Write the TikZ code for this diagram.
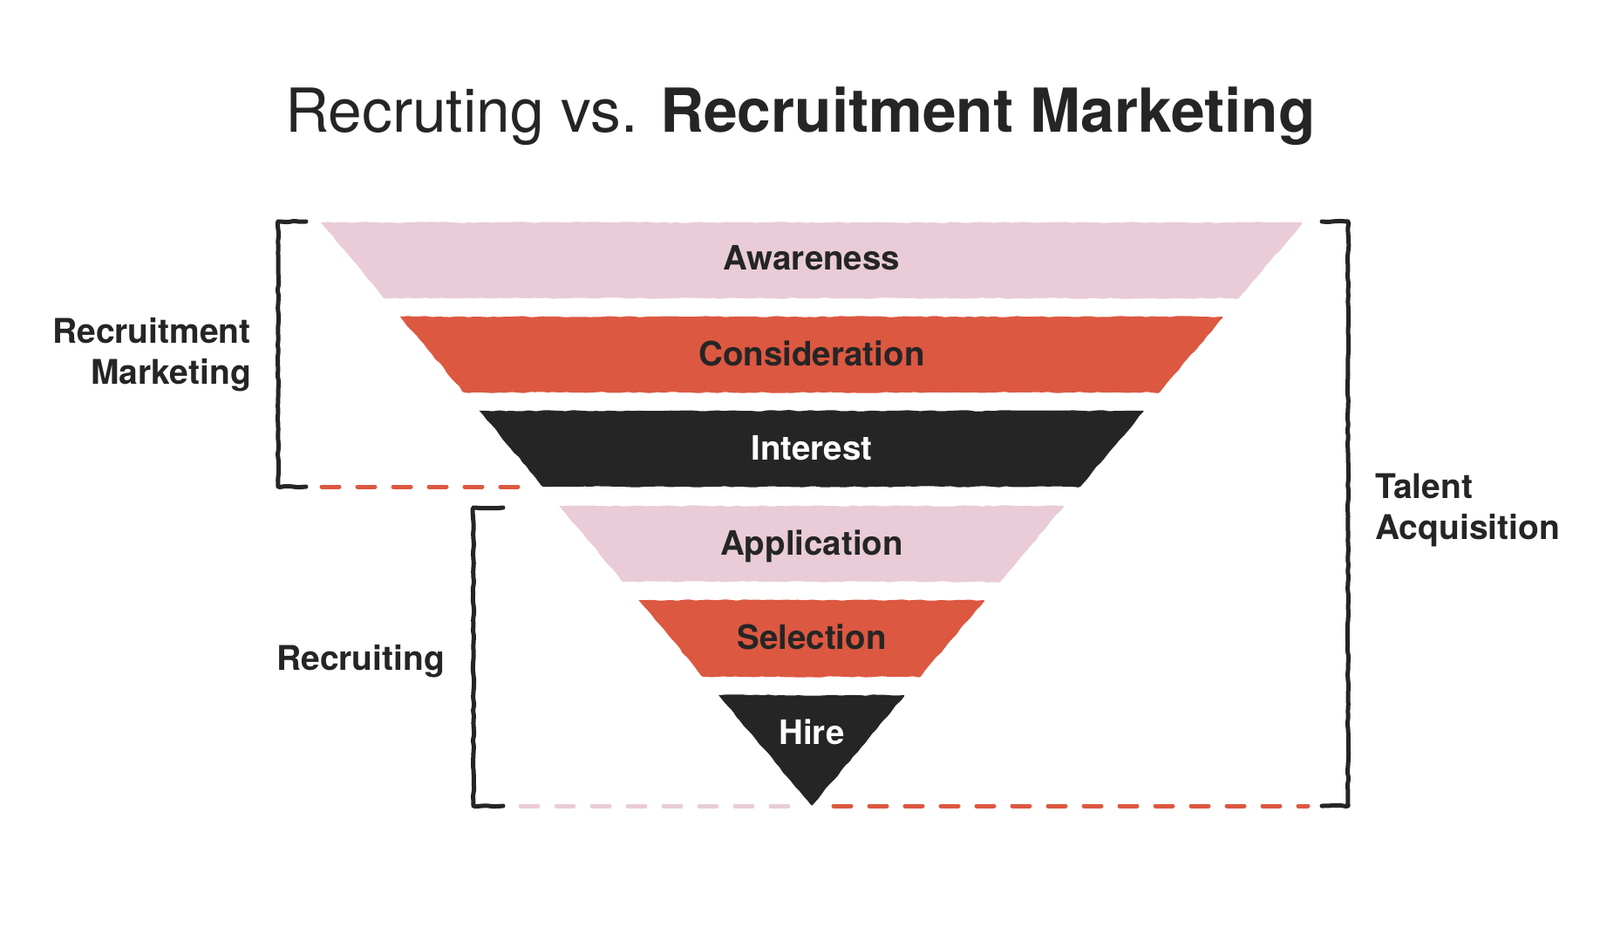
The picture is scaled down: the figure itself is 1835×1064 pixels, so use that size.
\documentclass[tikz,border=0pt]{standalone}
\usepackage{fontspec}
\setmainfont{TeX Gyre Heros}
\usetikzlibrary{decorations.pathmorphing}
\definecolor{fpink}{HTML}{E9CCD8}
\definecolor{fred}{HTML}{DC5841}
\definecolor{fdark}{HTML}{252525}
\tikzset{
  wob/.style={decorate, decoration={random steps, segment length=7pt, amplitude=0.8pt}, rounded corners=1.5pt},
  brk/.style={draw=fdark, line width=5pt, line cap=round, line join=round, wob},
  dashline/.style={line width=5pt, line cap=round, dash pattern=on 20pt off 21pt},
  flab/.style={font=\fontsize{38.5}{46}\selectfont\bfseries, anchor=base, inner sep=0pt},
  slab/.style={font=\fontsize{39}{46}\selectfont\bfseries, text=fdark, inner sep=0pt},
}
\begin{document}
\begin{tikzpicture}[x=1pt,y=-1pt]
\useasboundingbox[fill=white] (0,0) rectangle (1835,1064);
% title
\node[anchor=base, inner sep=0pt, text=fdark] (title) at (918,152)
  {\fontsize{69.5}{80}\selectfont Recruting vs. \textbf{Recruitment Marketing}};
% funnel layers
\foreach \t/\b/\c in {255/342/fpink, 363/450/fred, 471/558/fdark, 580/667/fpink, 688/776/fred, 797/924/fdark}{
  \fill[\c, wob] ({931-0.8416*(924-\t)},\t) -- ({931+0.8416*(924-\t)},\t)
     -- ({931+0.8416*(924-\b)},\b) -- ({931-0.8416*(924-\b)},\b) -- cycle;
}
\node[flab, text=fdark] (aw) at (931,310) {Awareness};
\node[flab, text=fdark] (co) at (931,419) {Consideration};
\node[flab, text=white] (in) at (931,527) {Interest};
\node[flab, text=fdark] (ap) at (931,636) {Application};
\node[flab, text=fdark] (se) at (931,744) {Selection};
\node[flab, text=white] (hi) at (931,853) {Hire};
% brackets
\draw[brk] (351,254) -- (319,254) -- (319,558) -- (351,558);
\draw[brk] (577,582) -- (543,582) -- (543,924) -- (577,924);
\draw[brk] (1516,254) -- (1546,254) -- (1546,924) -- (1516,924);
% dashed lines
\coordinate (r1a) at (369,558); \coordinate (r1b) at (600,558);
\coordinate (p1a) at (597,924); \coordinate (p1b) at (908,924);
\coordinate (r2a) at (956,924); \coordinate (r2b) at (1500,924);
\draw[dashline, fred] (r1a) -- (r1b);
\draw[dashline, fpink] (p1a) -- (p1b);
\draw[dashline, fred] (r2a) -- (r2b);
% side labels
\node[slab, anchor=base east] (rm1) at (288,393) {Recruitment};
\node[slab, anchor=base east] (rm2) at (288,440) {Marketing};
\node[slab, anchor=base west] (rc) at (317,768) {Recruiting};
\node[slab, anchor=base west] (ta1) at (1577,571) {Talent};
\node[slab, anchor=base west] (ta2) at (1577,618) {Acquisition};
\end{tikzpicture}
\end{document}
